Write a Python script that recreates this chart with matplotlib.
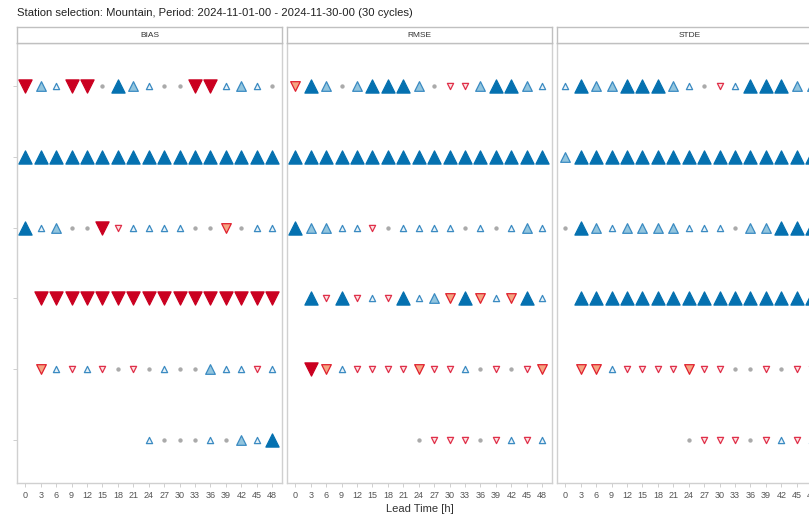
import numpy as np
import matplotlib.pyplot as plt

plt.rcParams['font.family'] = ['Liberation Sans', 'DejaVu Sans']

lead_times = list(range(0, 49, 3))
scores = ["BIAS", "RMSE", "STDE"]
# significance levels: +3 strong better ... -3 strong worse, 0 = no difference, None = missing
bias_rows = [
    [-3, 2, 1, -3, -3, 0, 3, 2, 1, 0, 0, -3, -3, 1, 2, 1, 0],
    [3] * 17,
    [3, 1, 2, 0, 0, -3, -1, 1, 1, 1, 1, 0, 0, -2, 0, 1, 1],
    [None] + [-3] * 16,
    [None, -2, 1, -1, 1, -1, 0, -1, 0, 1, 0, 0, 2, 1, 1, -1, 1],
    [None] * 8 + [1, 0, 0, 0, 1, 0, 2, 1, 3],
]
rmse_rows = [
    [-2, 3, 2, 0, 2, 3, 3, 3, 2, 0, -1, -1, 2, 3, 3, 2, 1],
    [3] * 17,
    [3, 2, 2, 1, 1, -1, 0, 1, 1, 1, 1, 0, 1, 0, 1, 2, 1],
    [None, 3, -1, 3, -1, 1, -1, 3, 1, 2, -2, 3, -2, 1, -2, 3, 1],
    [None, -3, -2, 1, -1, -1, -1, -1, -2, -1, -1, 1, 0, -1, 0, -1, -2],
    [None] * 8 + [0, -1, -1, -1, 0, -1, 1, -1, 1],
]
stde_rows = [
    [1, 3, 2, 2, 3, 3, 3, 2, 1, 0, -1, 1, 3, 3, 3, 2, 2],
    [2] + [3] * 16,
    [0, 3, 2, 1, 2, 2, 2, 2, 1, 1, 1, 0, 2, 2, 3, 3, 3],
    [None] + [3] * 16,
    [None, -2, -2, 1, -1, -1, -1, -1, -2, -1, -1, 0, 0, -1, 0, -1, -1],
    [None] * 8 + [0, -1, -1, -1, 0, -1, 1, -1, 1],
]

# marker style per level: (marker, size, face, edge)
styles = {
    3: ("^", 90, "#0571b0", "#0571b0"),
    2: ("^", 48, "#92c5de", "#3b8bc2"),
    1: ("^", 20, "#e8f2f8", "#3b8bc2"),
    0: ("o", 5, "#aaaaaa", "#aaaaaa"),
    -1: ("v", 20, "#fbe3e3", "#e0304a"),
    -2: ("v", 48, "#f4a582", "#e0202e"),
    -3: ("v", 90, "#ca0020", "#ca0020"),
}

fig = plt.figure(figsize=(8.09, 5.17), dpi=100)
W, H = 809, 517
lefts = [17, 287, 557]
pw = 265
top, bottom = 43, 483

for i, (name, rows) in enumerate(zip(scores, [bias_rows, rmse_rows, stde_rows])):
    ax = fig.add_axes([lefts[i] / W, 1 - bottom / H, pw / W, (bottom - top) / H])
    for r, row in enumerate(rows):
        y = r + 1
        for lvl, (m, s, fc, ec) in styles.items():
            xs = [lt for lt, v in zip(lead_times, row) if v == lvl]
            if xs:
                ax.scatter(xs, [y] * len(xs), marker=m, s=s, c=fc,
                           edgecolors=ec, linewidths=0.9, zorder=3)
    ax.set_xlim(-1.6, 49.9)
    ax.set_ylim(6.6, 0.4)
    ax.set_xticks(lead_times)
    ax.set_xticklabels([str(t) for t in lead_times])
    ax.set_yticks(range(1, 7))
    ax.set_yticklabels([""] * 6)
    ax.tick_params(axis="x", length=3, width=0.6, color="#c8c8c8",
                   labelsize=6.5, labelcolor="#555555", pad=3)
    ax.tick_params(axis="y", length=3, width=0.6, color="#c8c8c8",
                   left=(i == 0))
    for sp in ax.spines.values():
        sp.set_color("#d0d0d0")
        sp.set_linewidth(1.0)
    if i == 1:
        ax.set_xlabel("Lead Time [h]", fontsize=8, color="#333333", labelpad=3)

    strip = fig.add_axes([lefts[i] / W, 1 - top / H, pw / W, 16 / H])
    strip.set_xticks([])
    strip.set_yticks([])
    for sp in strip.spines.values():
        sp.set_color("#c0c0c0")
        sp.set_linewidth(1.0)
    strip.text(0.5, 0.45, name, ha="center", va="center", fontsize=6,
               color="#333333", transform=strip.transAxes)

fig.text(17 / W, 1 - 12.5 / H,
         "Station selection: Mountain, Period: 2024-11-01-00 - 2024-11-30-00 (30 cycles)",
         ha="left", va="center", fontsize=8.1, color="#222222")

fig.savefig("out.png", dpi=100)
